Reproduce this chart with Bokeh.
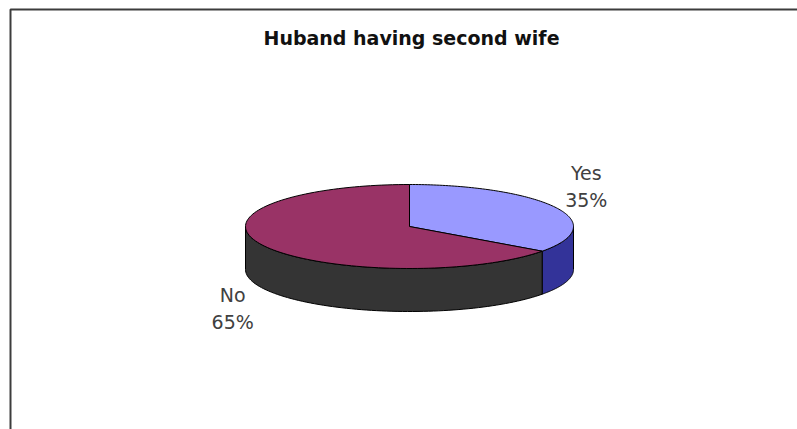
import numpy as np
from bokeh.plotting import figure
from bokeh.models import Range1d
from bokeh.core.properties import value
from bokeh.embed import file_html
from bokeh.resources import INLINE

# ---- data ----
categories = ["Yes", "No"]
shares = [35, 65]
title_text = "Huband having second wife"

# ---- styles / geometry ----
top_colors = ["#9999FF", "#993366"]
side_colors = ["#333399", "#343434"]
CX, CY, RX, RY, DEPTH = 409, 226, 164, 42, 43
W, H = 797, 429

p = figure(width=W, height=H, output_backend="svg", toolbar_location=None,
           x_range=Range1d(0, W), y_range=Range1d(H, 0), min_border=0,
           background_fill_color="white", border_fill_color="white")
p.axis.visible = False
p.grid.visible = False
p.outline_line_color = None

# chart frame (continues past the right and bottom edges)
p.quad(left=[10], right=[W + 20], top=[9], bottom=[H + 20], fill_color=None,
       line_color="#3c3c3c", line_width=2)

# title
p.text(x=[CX + 2], y=[37], text=[title_text], text_align="center",
       text_baseline="middle", text_font=value("DejaVu Sans"),
       text_font_style="bold", text_font_size="19px", text_color="#111111")

total = float(sum(shares))
bounds = np.concatenate([[0.0], np.cumsum(shares) / total * 360.0])


def pt(theta_deg, dy=0.0):
    t = np.radians(theta_deg)
    return CX + RX * np.sin(t), CY - RY * np.cos(t) + dy


# side walls (front half: 90..270 degrees clockwise from 12 o'clock)
for i in range(len(shares)):
    a0, a1 = max(bounds[i], 90.0), min(bounds[i + 1], 270.0)
    if a1 <= a0:
        continue
    th = np.linspace(a0, a1, 80)
    xt, yt = pt(th)
    xb, yb = pt(th[::-1], DEPTH)
    p.patch(np.concatenate([xt, xb]), np.concatenate([yt, yb]),
            fill_color=side_colors[i], line_color="black", line_width=1)

# top slices
for i in range(len(shares)):
    th = np.linspace(bounds[i], bounds[i + 1], 120)
    xs, ys = pt(th)
    xs = np.concatenate([[CX], xs])
    ys = np.concatenate([[CY], ys])
    p.patch(xs, ys, fill_color=top_colors[i], line_color="black", line_width=1)

# labels
lx, ly1, ly2, names, pcts = [], [], [], [], []
for i, (c, s) in enumerate(zip(categories, shares)):
    mid = np.radians((bounds[i] + bounds[i + 1]) / 2)
    x = CX + 1.21 * RX * np.sin(mid)
    y = CY - 2.05 * RY * np.cos(mid) + (DEPTH if np.cos(mid) < 0 else 0)
    lx.append(x)
    ly1.append(y - 14)
    ly2.append(y + 13)
    names.append(c)
    pcts.append(f"{round(s / total * 100)}%")

for ys_, txt in ((ly1, names), (ly2, pcts)):
    p.text(x=lx, y=ys_, text=txt, text_align="center", text_baseline="middle",
           text_font=value("DejaVu Sans"), text_font_size="19px",
           text_color="#404040")

open("out.html", "w").write(file_html(p, INLINE))
